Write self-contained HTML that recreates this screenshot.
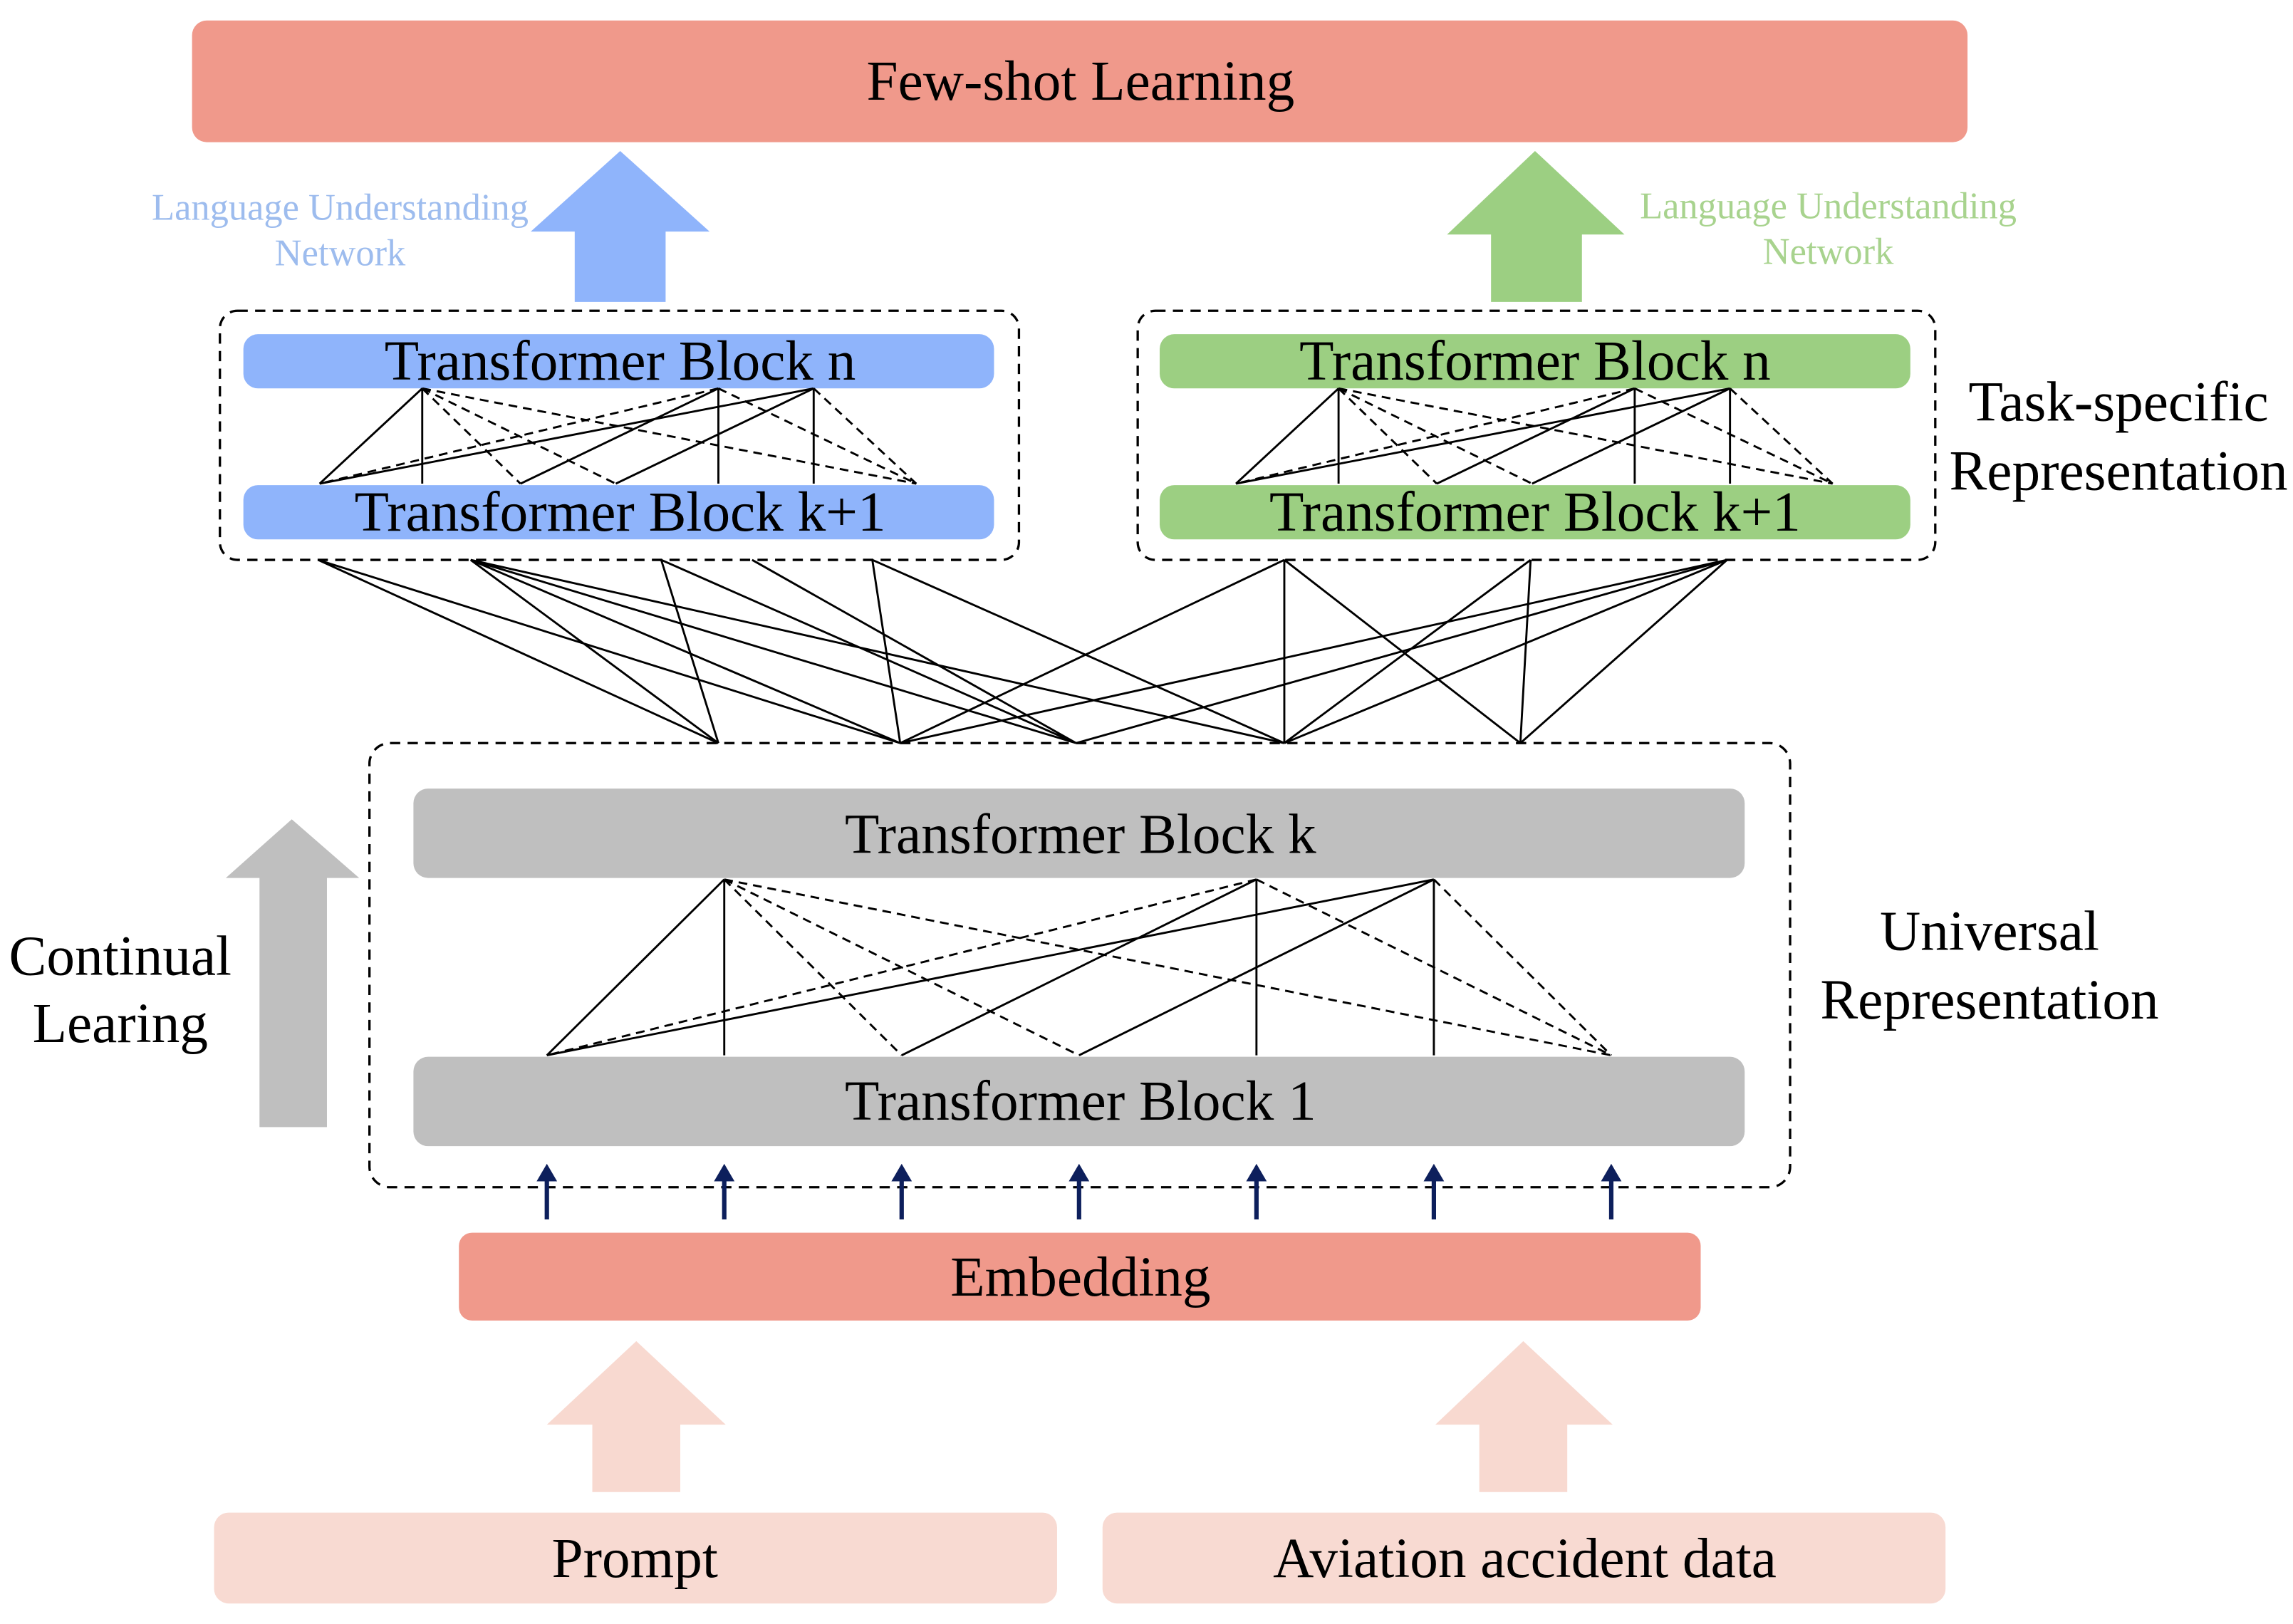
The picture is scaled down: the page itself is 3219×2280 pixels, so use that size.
<!DOCTYPE html>
<html><head><meta charset="utf-8"><style>
html,body{margin:0;padding:0;background:#fff;}
svg{display:block;}
text{font-family:"Liberation Serif",serif;}
</style></head><body>
<svg width="3219" height="2280" viewBox="0 0 1564 1108" preserveAspectRatio="none" xmlns="http://www.w3.org/2000/svg">
<rect x="131" y="14" width="1211" height="83" rx="10" fill="#f0998b"/>
<text x="737" y="68" font-size="38.5" text-anchor="middle">Few-shot Learning</text>

<polygon points="392,206 454,206 454,158 484,158 423,103 362,158 392,158" fill="#8fb4fb"/>
<polygon points="1017,206 1079,206 1079,160 1108,160 1047,103 987,160 1017,160" fill="#9ccf82"/>
<g font-size="25.5" text-anchor="middle" fill="#9dbcee">
<text x="232" y="150">Language Understanding</text><text x="232" y="181">Network</text></g>
<g font-size="25.5" text-anchor="middle" fill="#a8d38e">
<text x="1247" y="149">Language Understanding</text><text x="1247" y="180">Network</text></g>

<g fill="none" stroke="#000" stroke-width="1.6" stroke-dasharray="7,5">
<rect x="150" y="212" width="545" height="170" rx="12"/>
<rect x="776" y="212" width="544" height="170" rx="12"/>
<rect x="252" y="507" width="969" height="303" rx="14"/>
</g>

<rect x="166" y="228" width="512" height="37" rx="10" fill="#8fb4fb"/>
<rect x="166" y="331" width="512" height="37" rx="10" fill="#8fb4fb"/>
<rect x="791" y="228" width="512" height="37" rx="10" fill="#9ccf82"/>
<rect x="791" y="331" width="512" height="37" rx="10" fill="#9ccf82"/>
<g font-size="38.5" text-anchor="middle">
<text x="423" y="259">Transformer Block n</text>
<text x="423" y="362">Transformer Block k+1</text>
<text x="1047" y="259">Transformer Block n</text>
<text x="1047" y="362">Transformer Block k+1</text>
<text x="1445" y="287">Task-specific</text>
<text x="1445" y="334">Representation</text>
<text x="82" y="665">Continual</text>
<text x="82" y="711">Learing</text>
<text x="1357" y="648">Universal</text>
<text x="1357" y="695">Representation</text>
</g>

<g stroke="#000" stroke-width="1.4" fill="none">
<g>
<path d="M288,265L218,330M288,265L288,330M555,265L218,330M555,265L420,330M555,265L555,330M490,265L355,330M490,265L490,330"/>
<path stroke-dasharray="6,4" d="M288,265L355,330M288,265L420,330M288,265L625,330M490,265L218,330M490,265L625,330M555,265L625,330"/>
</g>
<g transform="translate(625,0)">
<path d="M288,265L218,330M288,265L288,330M555,265L218,330M555,265L420,330M555,265L555,330M490,265L355,330M490,265L490,330"/>
<path stroke-dasharray="6,4" d="M288,265L355,330M288,265L420,330M288,265L625,330M490,265L218,330M490,265L625,330M555,265L625,330"/>
</g>
<path d="M494,600L373,720M494,600L494,720M857,600L615,720M857,600L857,720M978,600L373,720M978,600L736,720M978,600L978,720"/>
<path stroke-dasharray="6,4" d="M494,600L615,720M494,600L736,720M494,600L1099,720M857,600L373,720M857,600L1099,720M978,600L1099,720"/>
<path d="M217,382L490,507M217,382L614,507
M321,382L490,507M321,382L614,507M321,382L734,507M321,382L876,507
M451,382L490,507M451,382L734,507
M513,382L734,507
M595,382L614,507M595,382L876,507
M876,382L614,507M876,382L876,507M876,382L1037,507
M1044,382L876,507M1044,382L1037,507
M1178,382L614,507M1178,382L734,507M1178,382L876,507M1178,382L1037,507"/>
</g>

<rect x="282" y="538" width="908" height="61" rx="10" fill="#bfbfbf"/>
<rect x="282" y="721" width="908" height="61" rx="10" fill="#bfbfbf"/>
<g font-size="38.5" text-anchor="middle">
<text x="737" y="582">Transformer Block k</text>
<text x="737" y="764">Transformer Block 1</text>
</g>
<polygon points="177,769 223,769 223,599 245,599 199,559 154,599 177,599" fill="#bfbfbf"/>

<g stroke="#0d1f5c" stroke-width="3" fill="#0d1f5c">
<g id="a"><line x1="373" y1="832" x2="373" y2="804"/><polygon points="366,806 380,806 373,794" stroke="none"/></g>
<use href="#a" x="121"/><use href="#a" x="242"/><use href="#a" x="363"/><use href="#a" x="484"/><use href="#a" x="605"/><use href="#a" x="726"/>
</g>

<rect x="313" y="841" width="847" height="60" rx="9" fill="#f0998b"/>
<text x="737" y="884" font-size="38.5" text-anchor="middle">Embedding</text>

<polygon points="404,1018 464,1018 464,972 495,972 434,915 373,972 404,972" fill="#f8d9d0"/>
<polygon points="1009,1018 1069,1018 1069,972 1100,972 1039,915 979,972 1009,972" fill="#f8d9d0"/>
<rect x="146" y="1032" width="575" height="62" rx="10" fill="#f8dad2"/>
<rect x="752" y="1032" width="575" height="62" rx="10" fill="#f8dad2"/>
<g font-size="38.5" text-anchor="middle">
<text x="433" y="1076">Prompt</text>
<text x="1040" y="1076">Aviation accident data</text>
</g>
</svg>
</body></html>
